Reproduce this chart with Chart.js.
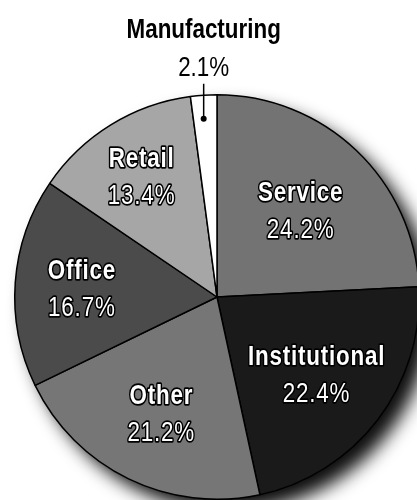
<!DOCTYPE html>
<html>
<head>
<meta charset="utf-8">
<script src="https://cdn.jsdelivr.net/npm/chart.js@4.4.1/dist/chart.umd.min.js"></script>
<style>
html, body { margin: 0; padding: 0; background: #fff; overflow: hidden; }
#wrap { width: 417px; height: 500px; overflow: hidden; }
</style>
</head>
<body>
<div id="wrap"><canvas id="pie" width="420" height="500"></canvas></div>
<script>
var sectors = ['Service', 'Institutional', 'Other', 'Office', 'Retail', 'Manufacturing'];
var shares = [24.2, 22.4, 21.2, 16.7, 13.4, 2.1];
var fills = ['#737373', '#1a1a1a', '#767676', '#4b4b4b', '#a6a6a6', '#ffffff'];
// how far from the centre each inside label sits, as a share of the radius (0 = outside label)
var labelRadius = [0.60, 0.62, 0.63, 0.67, 0.71, 0];

var FAMILY = '"Liberation Sans", Arial, sans-serif';
var NARROW = 0.8;

// soft shadow under the whole pie
const pieShadow = {
    id: 'pieShadow',
    beforeDatasetsDraw(chart) {
        var arc = chart.getDatasetMeta(0).data[0];
        var c = chart.ctx;
        c.save();
        c.shadowColor = 'rgba(0,0,0,0.95)';
        c.shadowBlur = 18;
        c.shadowOffsetX = 12;
        c.shadowOffsetY = 12;
        c.fillStyle = '#fff';
        c.beginPath();
        c.arc(arc.x, arc.y, arc.outerRadius, 0, Math.PI * 2);
        c.fill();
        c.restore();
    }
};

// text squeezed horizontally to get a condensed face
function narrowText(c, text, x, y, outline) {
    c.save();
    c.translate(x, y);
    c.scale(NARROW, 1);
    if (outline) c.strokeText(text, 0, 0);
    c.fillText(text, 0, 0);
    c.restore();
}

const sliceLabels = {
    id: 'sliceLabels',
    afterDatasetsDraw(chart) {
        var c = chart.ctx;
        var arcs = chart.getDatasetMeta(0).data;
        c.save();
        c.textAlign = 'center';
        c.textBaseline = 'alphabetic';
        arcs.forEach(function (arc, i) {
            var name = sectors[i];
            var pct = shares[i].toFixed(1) + '%';
            var mid = (arc.startAngle + arc.endAngle) / 2;
            if (labelRadius[i] > 0) {
                var r = arc.outerRadius * labelRadius[i];
                var x = arc.x + Math.cos(mid) * r;
                var y = arc.y + Math.sin(mid) * r;
                c.letterSpacing = '1px';
                c.lineJoin = 'round';
                c.lineWidth = 3.5;
                c.strokeStyle = '#000';
                c.fillStyle = '#fff';
                c.font = 'bold 28px ' + FAMILY;
                narrowText(c, name, x, y - 8, true);
                c.font = '28px ' + FAMILY;
                narrowText(c, pct, x, y + 29, true);
            } else {
                // small slice: label above the pie with a leader line
                var lx = arc.x + Math.cos(mid) * arc.outerRadius;
                var top = arc.y - arc.outerRadius;
                c.letterSpacing = '0px';
                c.strokeStyle = '#000';
                c.fillStyle = '#000';
                c.lineWidth = 1.5;
                c.beginPath();
                c.moveTo(lx, top + 24);
                c.lineTo(lx, top - 11);
                c.stroke();
                c.beginPath();
                c.arc(lx, top + 24, 3, 0, Math.PI * 2);
                c.fill();
                c.font = '28px ' + FAMILY;
                narrowText(c, pct, lx, top - 19, false);
                c.font = 'bold 28px ' + FAMILY;
                narrowText(c, name, lx, top - 57, false);
            }
        });
        c.restore();
    }
};

var pie = new Chart(document.getElementById('pie'), {
    type: 'pie',
    data: {
        labels: sectors,
        datasets: [{
            data: shares,
            backgroundColor: fills,
            borderColor: '#000',
            borderWidth: 1.5
        }]
    },
    options: {
        responsive: false,
        animation: false,
        layout: { padding: { top: 94, left: 14, right: 0, bottom: 0 } },
        plugins: {
            legend: { display: false },
            tooltip: { enabled: false }
        }
    },
    plugins: [pieShadow, sliceLabels]
});
</script>
</body>
</html>
